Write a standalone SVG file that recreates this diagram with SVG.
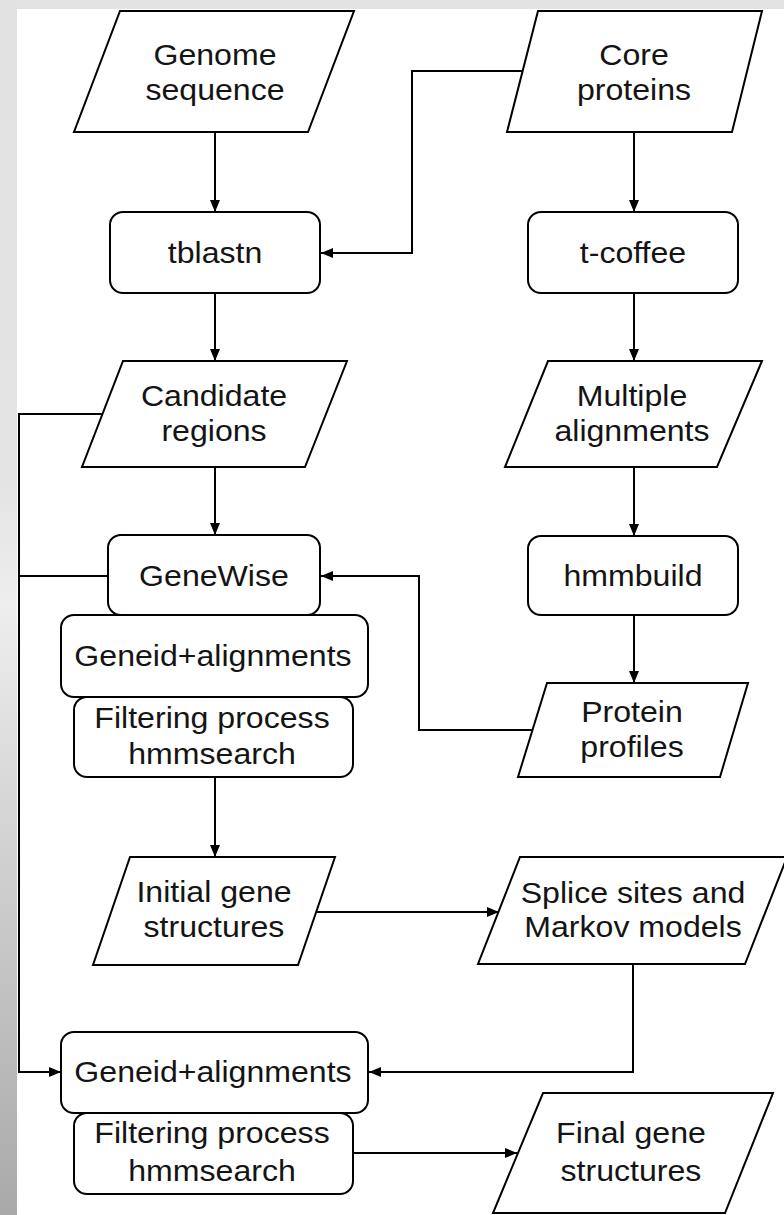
<svg xmlns="http://www.w3.org/2000/svg" width="784" height="1215" viewBox="0 0 784 1215">
  <defs>
    <linearGradient id="leftBand" x1="0" y1="0" x2="0" y2="1">
      <stop offset="0" stop-color="#e2e2e2"/>
      <stop offset="0.4" stop-color="#e4e4e4"/>
      <stop offset="0.5" stop-color="#eeeeee"/>
      <stop offset="0.62" stop-color="#dcdcdc"/>
      <stop offset="0.8" stop-color="#c4c4c4"/>
      <stop offset="1" stop-color="#a9a9a9"/>
    </linearGradient>
    <marker id="arrow" viewBox="0 0 12 10" refX="12" refY="5" markerWidth="12" markerHeight="10" markerUnits="userSpaceOnUse" orient="auto">
      <path d="M0,0 L12,5 L0,10 Z" fill="#000"/>
    </marker>
    <style>
      .shape { fill: #fff; stroke: #000; stroke-width: 2; }
      .link { fill: none; stroke: #000; stroke-width: 2; }
      .arr { marker-end: url(#arrow); }
      text { font-family: "Liberation Sans", Arial, sans-serif; font-size: 30px; fill: #141414; text-anchor: middle; }
    </style>
  </defs>

  <!-- page background -->
  <rect x="0" y="0" width="784" height="1215" fill="#e3e3e3"/>
  <rect x="0" y="0" width="17" height="1215" fill="url(#leftBand)"/>
  <rect x="17" y="9" width="767" height="1206" fill="#fff"/>

  <!-- connectors -->
  <g id="connectors">
    <path class="link arr" d="M215,132 V212"/>
    <path class="link arr" d="M523,71 H412 V253 H321"/>
    <path class="link arr" d="M634,132 V212"/>
    <path class="link arr" d="M215,293 V361"/>
    <path class="link arr" d="M634,293 V361"/>
    <path class="link arr" d="M215,467 V535"/>
    <path class="link arr" d="M634,467 V536"/>
    <path class="link arr" d="M634,615 V683"/>
    <path class="link arr" d="M532,730 H419 V576 H321"/>
    <path class="link arr" d="M102,414 H19 V1072 H61"/>
    <path class="link" d="M108,576 H19"/>
    <path class="link arr" d="M215,777 V857"/>
    <path class="link arr" d="M316,912 H499"/>
    <path class="link arr" d="M633,964 V1072 H369"/>
    <path class="link arr" d="M353,1153 H517"/>
  </g>

  <g id="genome-sequence">
    <polygon class="shape" points="120,11 354,11 308,132 74,132"/>
    <text transform="translate(215,0) scale(1.07,1)"><tspan x="0" y="65">Genome</tspan><tspan x="0" y="100">sequence</tspan></text>
  </g>

  <g id="core-proteins">
    <polygon class="shape" points="538,11 762,11 732,132 507,132"/>
    <text transform="translate(634,0) scale(1.07,1)"><tspan x="0" y="65">Core</tspan><tspan x="0" y="100">proteins</tspan></text>
  </g>

  <g id="tblastn">
    <rect class="shape" x="110" y="212" width="210" height="81" rx="13"/>
    <text transform="translate(215,0) scale(1.07,1)" x="0" y="263">tblastn</text>
  </g>

  <g id="t-coffee">
    <rect class="shape" x="528" y="212" width="210" height="81" rx="13"/>
    <text transform="translate(633,0) scale(1.07,1)" x="0" y="263">t-coffee</text>
  </g>

  <g id="candidate-regions">
    <polygon class="shape" points="123,361 347,361 305,467 82,467"/>
    <text transform="translate(214,0) scale(1.07,1)"><tspan x="0" y="406">Candidate</tspan><tspan x="0" y="441">regions</tspan></text>
  </g>

  <g id="multiple-alignments">
    <polygon class="shape" points="548,361 762,361 717,467 505,467"/>
    <text transform="translate(632,0) scale(1.07,1)"><tspan x="0" y="406">Multiple</tspan><tspan x="0" y="441">alignments</tspan></text>
  </g>

  <g id="genewise">
    <rect class="shape" x="108" y="535" width="212" height="80" rx="13"/>
    <text transform="translate(214,0) scale(1.07,1)" x="0" y="586">GeneWise</text>
  </g>

  <g id="hmmbuild">
    <rect class="shape" x="528" y="536" width="210" height="79" rx="13"/>
    <text transform="translate(633,0) scale(1.07,1)" x="0" y="586">hmmbuild</text>
  </g>

  <g id="geneid-alignments-1">
    <rect class="shape" x="61" y="615" width="307" height="82" rx="13"/>
    <text transform="translate(213,0) scale(1.07,1)" x="0" y="666">Geneid+alignments</text>
  </g>

  <g id="filtering-1">
    <rect class="shape" x="74" y="697" width="279" height="80" rx="13"/>
    <text transform="translate(212,0) scale(1.07,1)"><tspan x="0" y="728">Filtering process</tspan><tspan x="0" y="764">hmmsearch</tspan></text>
  </g>

  <g id="protein-profiles">
    <polygon class="shape" points="547,683 748,683 720,777 518,777"/>
    <text transform="translate(632,0) scale(1.07,1)"><tspan x="0" y="722">Protein</tspan><tspan x="0" y="757">profiles</tspan></text>
  </g>

  <g id="initial-gene-structures">
    <polygon class="shape" points="130,857 335,857 298,965 93,965"/>
    <text transform="translate(214,0) scale(1.07,1)"><tspan x="0" y="902">Initial gene</tspan><tspan x="0" y="937">structures</tspan></text>
  </g>

  <g id="splice-sites-markov">
    <polygon class="shape" points="520,857 787,857 745,964 478,964"/>
    <text transform="translate(633,0) scale(1.07,1)"><tspan x="0" y="903">Splice sites and</tspan><tspan x="0" y="937">Markov models</tspan></text>
  </g>

  <g id="geneid-alignments-2">
    <rect class="shape" x="61" y="1032" width="307" height="81" rx="13"/>
    <text transform="translate(213,0) scale(1.07,1)" x="0" y="1082">Geneid+alignments</text>
  </g>

  <g id="filtering-2">
    <rect class="shape" x="74" y="1113" width="279" height="81" rx="13"/>
    <text transform="translate(212,0) scale(1.07,1)"><tspan x="0" y="1143">Filtering process</tspan><tspan x="0" y="1181">hmmsearch</tspan></text>
  </g>

  <g id="final-gene-structures">
    <polygon class="shape" points="543,1093 773,1093 725,1213 493,1213"/>
    <text transform="translate(631,0) scale(1.07,1)"><tspan x="0" y="1143">Final gene</tspan><tspan x="0" y="1181">structures</tspan></text>
  </g>
</svg>
